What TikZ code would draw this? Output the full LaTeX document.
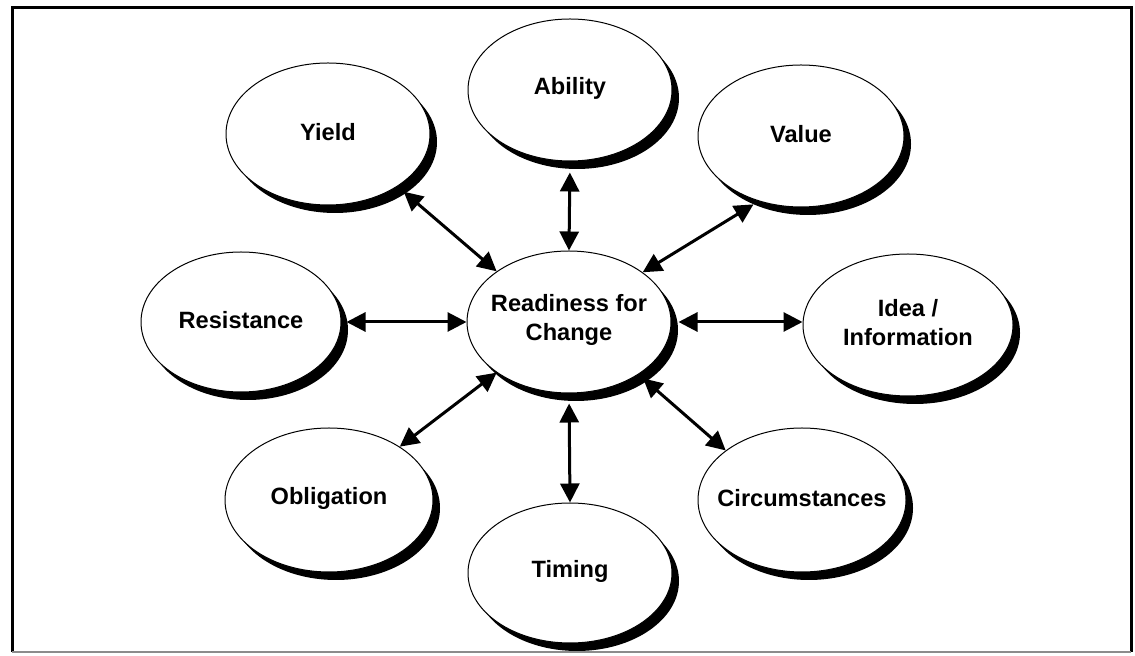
\documentclass[tikz,border=0pt]{standalone}
\usepackage{fontspec}
\setmainfont{Liberation Sans}
\usetikzlibrary{shapes.geometric,arrows.meta,shadows}

\tikzset{
  bubble/.style={ellipse, draw, line width=0.5pt, fill=white, inner sep=0pt,
    minimum width=102pt, minimum height=71pt,
    drop shadow={shadow xshift=3.5pt, shadow yshift=-4pt, fill=black, opacity=1},
    label={[font=\bfseries\fontsize{11.8}{14.5}\selectfont, align=center, yshift=1pt]center:#1}},
  link/.style={<->, line width=1.5pt},
}

\begin{document}
\begin{tikzpicture}[x=0.5pt, y=-0.5pt, >={Triangle[length=9.5pt,width=9.5pt]}]
\useasboundingbox (0,0) rectangle (1135,656);
% frame
\draw[line width=1.5pt] (12,652) -- (12,8) -- (1131,8) -- (1131,652);
\draw[line width=1pt, black!45] (12,652) -- (1131,652);

% the bubbles
\node[bubble={Readiness for\\Change}] (rfc) at (569,322) {};
\node[bubble={Ability}] (ability) at (570,90) {};
\node[bubble={Yield}] (yield) at (328,134) {};
\node[bubble={Value}, minimum width=103pt] (value) at (801,136) {};
\node[bubble={Resistance}, minimum width=100pt, minimum height=70pt] (resist) at (241,322) {};
\node[bubble={Idea /\\Information}, minimum width=105pt] (idea) at (908,325) {};
\node[bubble={Obligation}, minimum width=104pt, minimum height=72pt] (oblig) at (329,500) {};
\node[bubble={Timing}, minimum height=70pt] (timing) at (570,573) {};
\node[bubble={Circumstances}, minimum width=104pt, minimum height=72pt] (circ) at (802,500) {};

% arrows to the centre
\draw[link, shorten <=4pt] (yield.323) -- (rfc.145);
\draw[link, shorten <=5.5pt] (ability.270) -- (rfc.90);
\draw[link, shorten <=3pt] (value.237) -- (rfc.34);
\draw[link, shorten <=2.5pt] (resist.east) -- (rfc.west);
\draw[link, shorten <=3.5pt] (rfc.east) -- (idea.west |- rfc.east);
\draw[link] (oblig.37) -- (rfc.215);
\draw[link, shorten <=5pt] (rfc.south) -- (timing.north);
\draw[link, shorten <=3pt] (rfc.323) -- (circ.147);
\end{tikzpicture}
\end{document}
